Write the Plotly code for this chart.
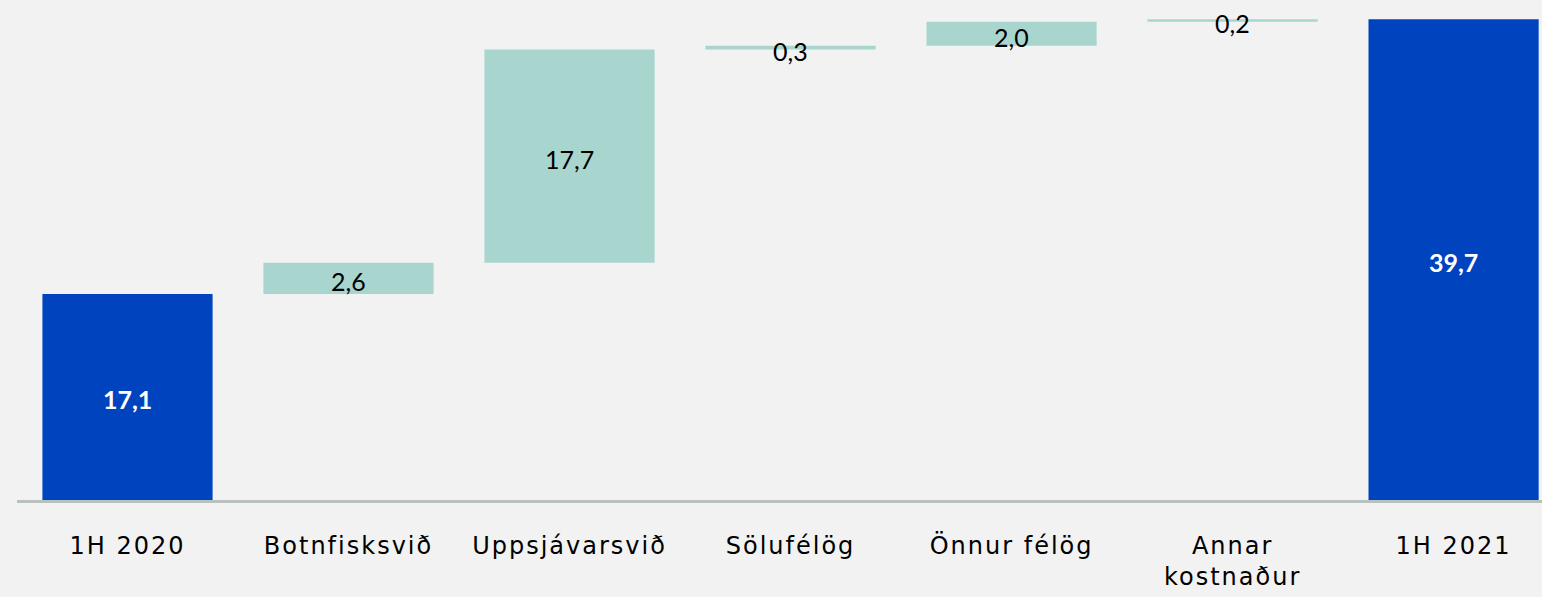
import plotly.graph_objects as go

categories = ["1H 2020", "Botnfisksvið", "Uppsjávarsvið", "Sölufélög", "Önnur félög", "Annar<br>kostnaður", "1H 2021"]
values = [17.1, 2.6, 17.7, 0.3, 2.0, 0.2, 39.7]
measures = ["absolute", "relative", "relative", "relative", "relative", "relative", "total"]

BLUE = "#0043BE"
TEAL = "#A9D5CF"
BG = "#F2F2F2"
LABEL_FONT = "Lato"
TICK_FONT = "DejaVu Sans"

def fmt(v):
    return f"{v:.1f}".replace(".", ",")

# cumulative bar extents for label placement
mids = []
running = 0.0
for v, m in zip(values, measures):
    if m == "absolute":
        lo, hi = 0.0, v
        running = v
    elif m == "total":
        lo, hi = 0.0, running
    else:
        lo, hi = running, running + v
        running += v
    mids.append((lo + hi) / 2)

fig = go.Figure()
fig.add_trace(go.Waterfall(
    x=categories, y=values, measure=measures,
    increasing=dict(marker=dict(color=TEAL)),
    decreasing=dict(marker=dict(color=TEAL)),
    totals=dict(marker=dict(color=BLUE)),
    connector=dict(visible=False),
    hoverinfo="skip",
))

annotations = []
for c, v, m, mid in zip(categories, values, measures, mids):
    is_main = m != "relative"
    annotations.append(dict(
        x=c, y=mid, xref="x", yref="y", text=fmt(v), showarrow=False,
        yshift=-2 if is_main else -3,
        font=dict(family=LABEL_FONT, size=25, color="white" if is_main else "black",
                  weight="bold" if is_main else "normal"),
    ))

fig.update_layout(
    width=1542, height=597,
    margin=dict(l=17, r=0, t=0, b=97),
    paper_bgcolor=BG, plot_bgcolor=BG,
    waterfallgap=0.23,
    showlegend=False,
    annotations=annotations,
    font=dict(family=TICK_FONT, size=24, color="black"),
)
fig.update_xaxes(
    range=[-0.5, 6.4], showgrid=False, showline=True, linecolor="#B9C1BE", linewidth=3,
    ticks="outside", ticklen=22, tickcolor="rgba(0,0,0,0)",
    tickfont=dict(family=TICK_FONT, size=24, color="black"),
)
fig.update_yaxes(range=[0, 41.5], showgrid=False, zeroline=False, showticklabels=False)

post = """
document.body.style.margin='0';
document.querySelectorAll('.xtick text').forEach(function(t){t.setAttribute('letter-spacing','2px');});
"""
fig.write_html("out.html", post_script=post, config={"displayModeBar": False})
